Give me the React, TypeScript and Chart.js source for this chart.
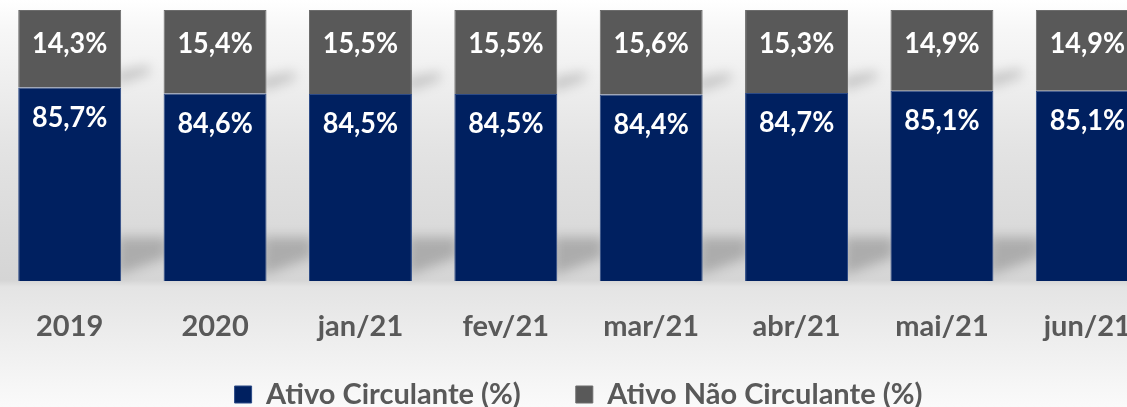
import React, { useEffect, useRef } from "react";
import { Chart, registerables } from "chart.js";

Chart.register(...registerables);

const categories = ["2019", "2020", "jan/21", "fev/21", "mar/21", "abr/21", "mai/21", "jun/21"];
const ativoCirculante = [85.7, 84.6, 84.5, 84.5, 84.4, 84.7, 85.1, 85.1];
const ativoNaoCirculante = [14.3, 15.4, 15.5, 15.5, 15.6, 15.3, 14.9, 14.9];
const seriesNames = ["Ativo Circulante (%)", "Ativo Não Circulante (%)"];

const BLUE = "#002060";
const GRAY = "#595959";
const TEXT = "#595959";
const FONT = "Lato, 'Open Sans', 'Noto Sans', sans-serif";
const LABEL_SCALE_X = 0.93;

const backgroundPlugin = {
  id: "bgGradient",
  beforeDraw(chart: any) {
    const { ctx, width, height } = chart;
    const H = 407;
    const g = ctx.createLinearGradient(0, 0, 0, H);
    g.addColorStop(0, "#ffffff");
    g.addColorStop(30 / H, "#f7f7f7");
    g.addColorStop(150 / H, "#e3e3e3");
    g.addColorStop(230 / H, "#dadada");
    g.addColorStop(280 / H, "#d5d5d5");
    g.addColorStop(287 / H, "#e4e4e4");
    g.addColorStop(1, "#fafafa");
    ctx.save();
    ctx.fillStyle = g;
    ctx.fillRect(0, 0, width, height);
    ctx.restore();
  },
};

const shadowPlugin = {
  id: "barShadows",
  beforeDatasetsDraw(chart: any) {
    const { ctx, chartArea } = chart;
    const blue = chart.getDatasetMeta(0).data;
    ctx.save();
    ctx.filter = "blur(6px)";
    blue.forEach((bar: any) => {
      const xr = bar.x + bar.width / 2;
      const yb = chartArea.bottom;
      ctx.fillStyle = "rgba(0,0,0,0.2)";
      ctx.beginPath();
      ctx.moveTo(xr - 4, yb - 44);
      ctx.lineTo(xr + 46, yb - 44);
      ctx.lineTo(xr + 46, yb - 24);
      ctx.lineTo(xr - 4, yb - 6);
      ctx.closePath();
      ctx.fill();
      const by = bar.y;
      ctx.fillStyle = "rgba(0,0,0,0.18)";
      ctx.beginPath();
      ctx.moveTo(xr - 4, by - 16);
      ctx.lineTo(xr + 28, by - 22);
      ctx.lineTo(xr + 28, by - 14);
      ctx.lineTo(xr - 4, by - 3);
      ctx.closePath();
      ctx.fill();
    });
    ctx.restore();
  },
};

const dataLabelPlugin = {
  id: "dataLabels",
  afterDatasetsDraw(chart: any) {
    const { ctx } = chart;
    ctx.save();
    ctx.font = `bold 29px ${FONT}`;
    ctx.fillStyle = "#ffffff";
    ctx.textAlign = "center";
    ctx.textBaseline = "middle";
    chart.data.datasets.forEach((ds: any, di: number) => {
      const meta = chart.getDatasetMeta(di);
      meta.data.forEach((bar: any, i: number) => {
        const v = ds.data[i] as number;
        const text = v.toFixed(1).replace(".", ",") + "%";
        const offset = di === 0 ? 30 : 34;
        ctx.save();
        ctx.translate(bar.x, bar.y + offset);
        ctx.scale(LABEL_SCALE_X, 1);
        ctx.fillText(text, 0, 0);
        ctx.restore();
      });
    });
    ctx.restore();
  },
};

export default function App() {
  const ref = useRef<HTMLCanvasElement>(null);

  useEffect(() => {
    if (!ref.current) return;
    Chart.defaults.font.family = FONT;
    const chart = new Chart(ref.current, {
      type: "bar",
      data: {
        labels: categories,
        datasets: [
          {
            label: seriesNames[0],
            data: ativoCirculante,
            backgroundColor: BLUE,
            borderColor: "#2c4a86",
            borderWidth: 1,
            barPercentage: 0.708,
            categoryPercentage: 1.0,
          },
          {
            label: seriesNames[1],
            data: ativoNaoCirculante,
            backgroundColor: GRAY,
            borderColor: "#6c6c6c",
            borderWidth: 1,
            barPercentage: 0.708,
            categoryPercentage: 1.0,
          },
        ],
      },
      options: {
        animation: false,
        responsive: false,
        devicePixelRatio: 1,
        events: [],
        layout: { padding: { left: 17, right: 20, top: 10, bottom: 0 } },
        scales: {
          x: {
            type: "category",
            stacked: true,
            offset: true,
            grid: { display: false, drawTicks: false },
            border: { display: false },
            ticks: {
              font: { family: FONT, size: 29, weight: "bold" },
              color: TEXT,
              mirror: true,
              padding: -63.4,
              maxRotation: 0,
              autoSkip: false,
            },
            afterFit: (scale: any) => {
              scale.height = 44;
            },
          },
          y: {
            display: false,
            stacked: true,
            min: 50,
            max: 100,
          },
        },
        plugins: {
          tooltip: { enabled: false },
          legend: {
            display: true,
            position: "bottom",
            labels: {
              font: { family: FONT, size: 29, weight: "bold" },
              color: TEXT,
              boxWidth: 17,
              boxHeight: 17,
              padding: 55,
            },
          },
        },
      },
      plugins: [backgroundPlugin, shadowPlugin, dataLabelPlugin],
    } as any);

    const fonts: any = (document as any).fonts;
    if (fonts && fonts.load) {
      fonts.load(`bold 29px Lato`).then(() => chart.update()).catch(() => {});
    }
    return () => chart.destroy();
  }, []);

  return (
    <div
      style={{
        position: "fixed",
        left: 0,
        top: 0,
        width: 1127,
        height: 407,
        overflow: "hidden",
        background: "#ffffff",
      }}
    >
      <div style={{ position: "absolute", left: -20, top: 0, width: 1200, height: 419 }}>
        <canvas
          ref={ref}
          width={1200}
          height={419}
          style={{ display: "block", width: 1200, height: 419 }}
        />
      </div>
    </div>
  );
}
